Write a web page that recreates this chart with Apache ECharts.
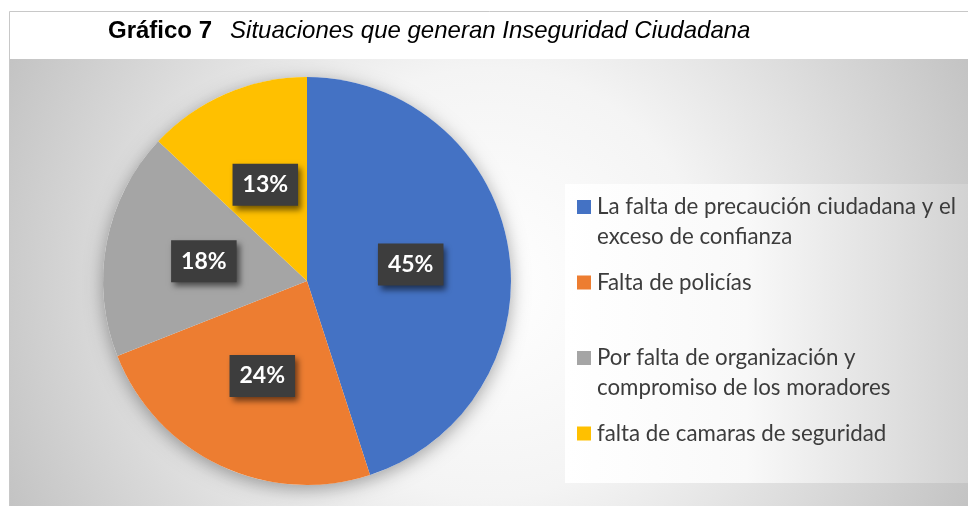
<!DOCTYPE html>
<html>
<head>
<meta charset="utf-8">
<script src="https://cdn.jsdelivr.net/npm/echarts@6/dist/echarts.min.js"></script>
<style>
html, body { margin: 0; padding: 0; background: #fff; }
#grafico-7 { width: 968px; height: 506px; }
</style>
</head>
<body>
<div id="grafico-7"></div>
<script>
// datos del gráfico
var categorias = [
	'La falta de precaución ciudadana y el\nexceso de confianza',
	'Falta de policías',
	'Por falta de organización y\ncompromiso de los moradores',
	'falta de camaras de seguridad'
];
var porcentajes = [45, 24, 18, 13];
var colores = ['#4472C4', '#ED7D31', '#A5A5A5', '#FFC000'];

var richLeyenda = {
	t: { fontFamily: 'Lato', fontSize: 22.3, color: '#3c3c3c', lineHeight: 29.5, padding: [0, 0, 0, 6], verticalAlign: 'middle' },
	s: { width: 14, height: 14 }
};
for (var i = 0; i < colores.length; i++) {
	richLeyenda['m' + i] = { width: 14, height: 14, backgroundColor: colores[i], verticalAlign: 'middle' };
}

var datosPie = [];
for (var i = 0; i < categorias.length; i++) {
	datosPie.push({ name: categorias[i], value: porcentajes[i], itemStyle: { color: colores[i] } });
}

var option_g7 = {
	animation: false,
	title: {
		text: '{b|Gráfico 7}{i|Situaciones que generan Inseguridad Ciudadana}',
		left: 108,
		top: 17,
		padding: 0,
		textStyle: {
			rich: {
				b: { fontFamily: 'Liberation Sans', fontWeight: 'bold', fontSize: 24, color: '#000', lineHeight: 28 },
				i: { fontFamily: 'Liberation Sans', fontStyle: 'italic', fontWeight: 'normal', fontSize: 24, color: '#000', lineHeight: 28, padding: [0, 0, 0, 18] }
			}
		}
	},
	graphic: [
		{ type: 'rect', z: -3, shape: { x: 9.5, y: 11.5, width: 970, height: 500 }, style: { fill: '#fff', stroke: '#c8c8c8', lineWidth: 1 } },
		{ type: 'rect', z: -2, shape: { x: 10, y: 59, width: 958, height: 447 },
			style: { fill: new echarts.graphic.RadialGradient(0.5, 0.5, 1.2, [
				{ offset: 0, color: '#ffffff' },
				{ offset: 0.4, color: '#f4f4f4' },
				{ offset: 0.67, color: '#dedede' },
				{ offset: 1, color: '#c2c2c2' }
			]) } },
		{ type: 'rect', z: -1, shape: { x: 565, y: 184, width: 403, height: 299 },
			style: { fill: new echarts.graphic.LinearGradient(0, 0, 1, 0, [
				{ offset: 0, color: '#ffffff' },
				{ offset: 0.45, color: '#f9f9f9' },
				{ offset: 1, color: '#d2d2d2' }
			]) } }
	],
	legend: {
		orient: 'vertical',
		left: 572,
		top: 196,
		padding: 0,
		itemGap: 24,
		itemWidth: 0,
		itemHeight: 14,
		icon: 'none',
		selectedMode: false,
		data: categorias,
		formatter: function (name) {
			var idx = categorias.indexOf(name);
			var lineas = name.split('\n');
			return '{m' + idx + '|}{t|' + lineas[0] + '}\n{s|}{t|' + (lineas[1] || ' ') + '}';
		},
		textStyle: { rich: richLeyenda }
	},
	series: [
		{
			// sombra detrás del pastel
			type: 'pie',
			name: 'sombra',
			z: 1,
			silent: true,
			center: [307, 281],
			radius: 204,
			label: { show: false },
			labelLine: { show: false },
			itemStyle: { color: '#ffffff', shadowBlur: 18, shadowOffsetY: 4, shadowColor: 'rgba(0,0,0,0.35)' },
			data: [{ name: 'sombra', value: 1 }]
		},
		{
			type: 'pie',
			z: 2,
			silent: true,
			center: [307, 281],
			radius: 204,
			startAngle: 90,
			clockwise: true,
			percentPrecision: 0,
			label: {
				show: true,
				position: 'inside',
				formatter: '{d}%',
				color: '#fff',
				fontFamily: 'Lato',
				fontWeight: 'bold',
				fontSize: 23,
				lineHeight: 26,
				backgroundColor: '#3d3d3d',
				padding: [8, 10],
				shadowColor: 'rgba(0,0,0,0.55)',
				shadowBlur: 6,
				shadowOffsetX: 3,
				shadowOffsetY: 4
			},
			labelLine: { show: false },
			data: datosPie
		}
	]
};

var g7Chart = echarts.init(document.getElementById('grafico-7'));
g7Chart.setOption(option_g7);
</script>
</body>
</html>
